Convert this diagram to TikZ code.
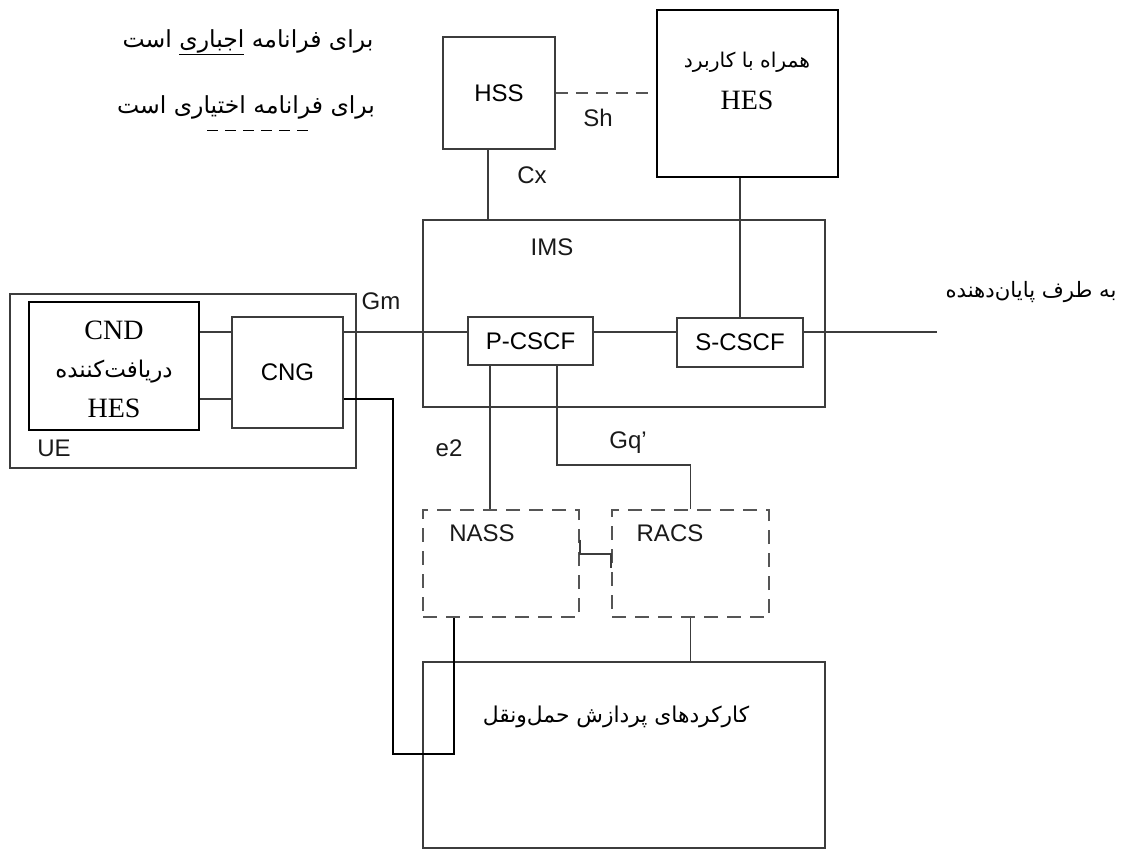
\documentclass[tikz,border=0pt]{standalone}
\usepackage{fontspec}
\setmainfont{Liberation Serif}
\setsansfont{Liberation Sans}
\newfontfamily\fa[Script=Arabic]{DejaVu Sans}
\TeXXeTstate=1
\definecolor{linegray}{HTML}{3C3C3C}
\definecolor{dashgray}{HTML}{555555}
\tikzset{
  box/.style={draw=linegray, line width=1.8pt, inner sep=0pt, font=\sffamily\fontsize{24}{28}\selectfont},
  boldbox/.style={draw=black, line width=2.8pt, inner sep=0pt},
  optbox/.style={draw=dashgray, line width=1.8pt, dash pattern=on 14pt off 9pt, inner sep=0pt},
  link/.style={draw=linegray, line width=1.8pt},
  dashline/.style={draw=dashgray, line width=1.8pt, dash pattern=on 12pt off 8pt},
  sanslbl/.style={font=\sffamily\fontsize{24}{28}\selectfont, text=black!90, inner sep=0pt},
  seriflbl/.style={font=\rmfamily\fontsize{28}{32}\selectfont, inner sep=0pt},
  falbl/.style={font=\fa\fontsize{#1}{26}\selectfont, inner sep=0pt},
  falbl/.default=21
}
\begin{document}
\begin{tikzpicture}[x=1pt,y=-1pt]
\useasboundingbox (0,0) rectangle (1126,849);
% legend
\node[falbl=23.5] (legmand) at (248,42) {\beginR برای فرانامه \underline{اجباری} است\endR};
\node[falbl=23.5] (legopt) at (246,107) {\beginR برای فرانامه اختیاری است\endR};
\coordinate (optdash) at (207,130);
\draw[black, line width=1pt, dash pattern=on 11pt off 7pt] (optdash) -- ++(101,0);
% HSS and HES
\node[box, minimum width=112, minimum height=112] (hss) at (499,93) {HSS};
\node[boldbox, minimum width=181, minimum height=167] (hes) at (747.5,93.5) {};
\node[falbl=20.3] (hesrole) at (747,62) {\beginR همراه با کاربرد\endR};
\node[seriflbl] (hesname) at (747,100) {HES};
\draw[dashline] (hss.east) -- (hss.east -| hes.west);
\node[sanslbl] (shlbl) at (598,118) {Sh};
% IMS
\node[box, minimum width=402, minimum height=187] (ims) at (624,313.5) {};
\node[sanslbl] (imslbl) at (552,247) {IMS};
\draw[link] ([xshift=-11]hss.south) -- ([xshift=-11]hss.south |- ims.north);
\node[sanslbl] (cxlbl) at (532,175) {Cx};
\node[box, minimum width=125, minimum height=48] (pcscf) at (530.5,341) {P-CSCF};
\node[box, minimum width=126, minimum height=49] (scscf) at (740,342.5) {S-CSCF};
\draw[link] (scscf.north) -- (scscf.north |- hes.south);
% UE
\node[box, minimum width=346, minimum height=174] (ue) at (183,381) {};
\node[sanslbl] (uelbl) at (54,448) {UE};
\node[sanslbl] (gmlbl) at (381,301) {Gm};
\node[boldbox, minimum width=170, minimum height=128] (cnd) at (114,366) {};
\node[seriflbl] (cndname) at (114,330) {CND};
\node[falbl=23] (cndrole) at (114,372) {\beginR دریافت‌کننده\endR};
\node[seriflbl] (cndhes) at (114,408) {HES};
\node[box, minimum width=111, minimum height=111] (cng) at (287.5,372.5) {CNG};
% Gm line towards the far end
\coordinate (farend) at (937,332);
\draw[link] (cnd.east |- farend) -- (cng.west |- farend);
\draw[link] (cng.east |- farend) -- (pcscf.west |- farend);
\draw[link] (pcscf.east |- farend) -- (scscf.west |- farend);
\draw[link] (scscf.east |- farend) -- (farend);
\node[falbl=21.2] (farlbl) at (1031,292) {\beginR به طرف پایان‌دهنده\endR};
% NASS and RACS
\node[optbox, minimum width=156, minimum height=107] (nass) at (501,563.5) {};
\node[sanslbl] (nasslbl) at (482,533) {NASS};
\node[optbox, minimum width=157, minimum height=107] (racs) at (690.5,563.5) {};
\node[sanslbl] (racslbl) at (670,533) {RACS};
\draw[link] ([xshift=-40.5]pcscf.south) -- ([xshift=-40.5]pcscf.south |- nass.north);
\coordinate (gqbend) at (600,465);
\draw[link] ([xshift=26.5]pcscf.south) |- (gqbend) -| (racs.north);
\node[sanslbl] (e2lbl) at (449,448) {e2};
\node[sanslbl] (gqlbl) at (628,443) {Gq'};
\draw[link] ([yshift=24]nass.east) |- ([yshift=9.5]racs.west) -- ([yshift=-4]racs.west);
% transport
\node[box, minimum width=402, minimum height=186] (trans) at (624,755) {};
\node[falbl=21.8] (translbl) at (616,717) {\beginR کارکردهای پردازش حمل‌ونقل\endR};
\draw[link] (racs.south) -- (racs.south |- trans.north);
\coordinate (loopturn) at (393,399);
\coordinate (loopfoot) at (454,754);
\draw[link] (cnd.east |- loopturn) -- (cng.west |- loopturn);
\draw[black, line width=1.5pt] (cng.east |- loopturn) -- (loopturn) |- (loopfoot) -- (loopfoot |- nass.south);
\end{tikzpicture}
\end{document}
